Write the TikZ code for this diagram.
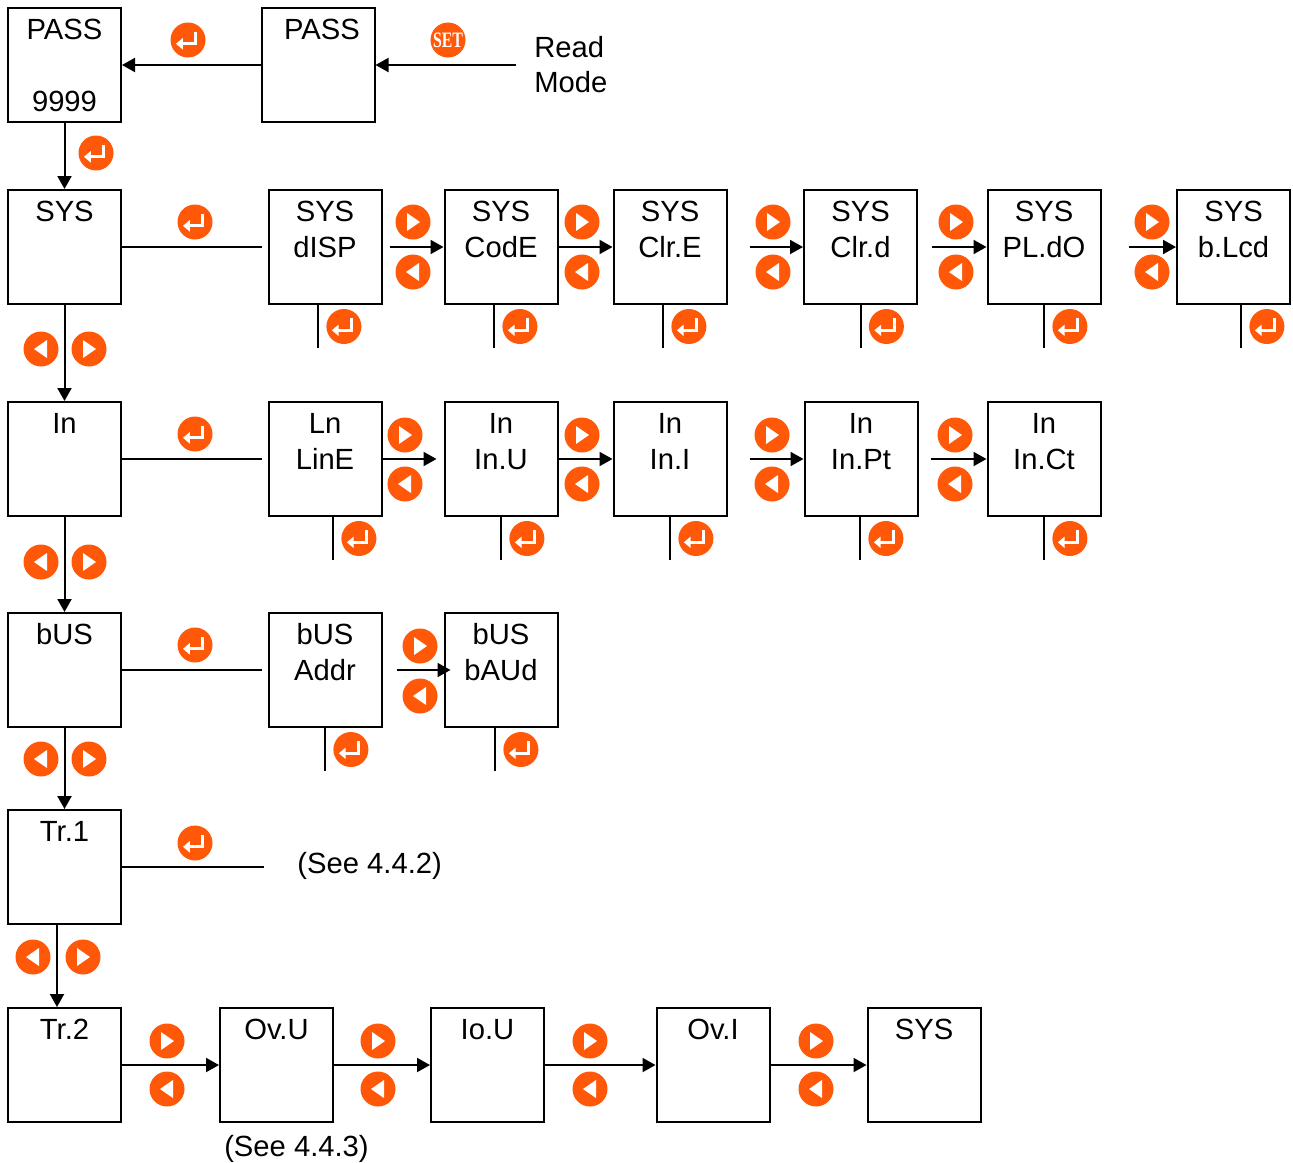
\documentclass[tikz,border=0pt]{standalone}
\usepackage{fontspec}
\setmainfont{Liberation Sans}
\newfontfamily\setkeyfont[FakeStretch=0.72]{Liberation Serif}
\usetikzlibrary{arrows.meta,positioning}
\definecolor{keyorange}{RGB}{255,88,8}
\tikzset{
        menubox/.style={draw=black, line width=1pt, minimum width=56.5pt, minimum height=57pt, inner sep=0pt},
        boxtext/.style={anchor=base, align=center, inner sep=0pt, font=\fontsize{14.6pt}{18pt}\selectfont},
        plaintext/.style={anchor=base west, align=left, inner sep=0pt, font=\fontsize{14.6pt}{17.5pt}\selectfont},
        link/.style={line width=1pt},
        arr/.style={link, -{Triangle[length=6.5pt,width=7pt]}},
        key/.style={circle, fill=keyorange, minimum size=17.5pt, inner sep=0pt},
        rightkey/.style={key, path picture={
          \fill[white] ([shift={(-3pt,4.5pt)}]path picture bounding box.center) -- ++(6.5pt,-4.5pt) -- ++(-6.5pt,-4.5pt) -- cycle;}},
        leftkey/.style={key, path picture={
          \fill[white] ([shift={(3pt,4.5pt)}]path picture bounding box.center) -- ++(-6.5pt,-4.5pt) -- ++(6.5pt,-4.5pt) -- cycle;}},
        enterkey/.style={key, path picture={
          \draw[white, line width=1.5pt] ([shift={(3.8pt,4.2pt)}]path picture bounding box.center) |- ([shift={(-2.8pt,-1.9pt)}]path picture bounding box.center);
          \fill[white] ([shift={(-6pt,-1.9pt)}]path picture bounding box.center) -- ++(3.4pt,2.9pt) -- ++(0,-5.8pt) -- cycle;}},
        setkey/.style={key, text=white, font=\setkeyfont\bfseries\fontsize{11pt}{11pt}\selectfont}
          }
\begin{document}
\begin{tikzpicture}[x=0.5pt, y=-0.5pt]
        \useasboundingbox (0,0) rectangle (1293,1162);
        % password entry
        \node[menubox] (passcode) at (64.5,65) {};
        \node[boxtext] (passcodeT) at ([yshift=-16.25pt]passcode.north) {PASS};
        \node[boxtext] (passcodeV) at ([yshift=5.75pt]passcode.south) {9999};
        \node[menubox] (passin) at (318,65) {};
        \node[boxtext] (passinT) at ([xshift=2pt,yshift=-16.25pt]passin.north) {PASS};
        \node[plaintext] (readmode) at (534,92.5) {Read\\Mode};
        \coordinate (readend) at (516,65);
        \draw[arr] (readend) -- (passin.east);
        \draw[arr] (passin.west) -- (passcode.east);
        \node[setkey] (kset) at (448,40) {SET};
        \node[enterkey] (kpass) at (188,40) {};
        \node[enterkey] (kcode) at (96,153) {};
        % main menu column
        \node[menubox] (sys) at (64.5,247) {};
        \node[menubox] (inp) at (64.5,459) {};
        \node[menubox] (bus) at (64.5,670) {};
        \node[menubox] (trone) at (64.5,867) {};
        \node[menubox] (trtwo) at (64.5,1065) {};
        \node[boxtext] (sysT) at ([yshift=-16.25pt]sys.north) {SYS};
        \node[boxtext] (inpT) at ([yshift=-16.25pt]inp.north) {In};
        \node[boxtext] (busT) at ([yshift=-16.25pt]bus.north) {bUS};
        \node[boxtext] (troneT) at ([yshift=-16.25pt]trone.north) {Tr.1};
        \node[boxtext] (trtwoT) at ([yshift=-16.25pt]trtwo.north) {Tr.2};
        \draw[arr] (passcode.south) -- (sys.north);
        \draw[arr] (sys.south) -- (inp.north);
        \draw[arr] (inp.south) -- (bus.north);
        \draw[arr] (bus.south) -- (trone.north);
        \draw[arr] ([xshift=-3.75pt]trone.south) -- ([xshift=-3.75pt]trtwo.north);
        \foreach \n/\x/\y in {a/41/349, b/41/562, c/41/759, d/33/957}
          \node[leftkey] (vl\n) at (\x,\y) {};
        \foreach \n/\x/\y in {a/89/349, b/89/562, c/89/759, d/83/957}
          \node[rightkey] (vr\n) at (\x,\y) {};
        % SYS row
        \node[menubox] (disp) at (325,247) {};
        \node[menubox] (code) at (501,247) {};
        \node[menubox] (clre) at (670,247) {};
        \node[menubox] (clrd) at (860.5,247) {};
        \node[menubox] (pldo) at (1044,247) {};
        \node[menubox] (blcd) at (1233.5,247) {};
        \foreach \b/\t in {disp/dISP, code/CodE, clre/Clr.E, clrd/Clr.d, pldo/PL.dO, blcd/b.Lcd}
          \node[boxtext] (\b T) at ([yshift=-34.25pt]\b.north) {SYS\\\t};
        \draw[link] (sys.east) -- ([xshift=-3pt]disp.west);
        \node[enterkey] (ksys) at (195,222) {};
        \draw[arr, shorten <=3.5pt] (disp.east) -- (code.west);
        \draw[arr] (code.east) -- (clre.west);
        \draw[arr, shorten <=11pt] (clre.east) -- (clrd.west);
        \draw[arr, shorten <=7pt] (clrd.east) -- (pldo.west);
        \draw[arr, shorten <=13.5pt] (pldo.east) -- (blcd.west);
        % In row
        \node[menubox] (lineb) at (325,459) {};
        \node[menubox] (inu) at (501,459) {};
        \node[menubox] (ini) at (670,459) {};
        \node[menubox] (inpt) at (861,459) {};
        \node[menubox] (inct) at (1044,459) {};
        \node[boxtext] (linebT) at ([yshift=-34.25pt]lineb.north) {Ln\\LinE};
        \foreach \b/\t in {inu/In.U, ini/In.I, inpt/In.Pt, inct/In.Ct}
          \node[boxtext] (\b T) at ([yshift=-34.25pt]\b.north) {In\\\t};
        \draw[link] (inp.east) -- ([xshift=-3pt]lineb.west);
        \node[enterkey] (kinp) at (195,434) {};
        \draw[arr, shorten >=3.5pt] (lineb.east) -- (inu.west);
        \draw[arr] (inu.east) -- (ini.west);
        \draw[arr, shorten <=11pt] (ini.east) -- (inpt.west);
        \draw[arr, shorten <=6pt] (inpt.east) -- (inct.west);
        % bUS row
        \node[menubox] (addr) at (325,670) {};
        \node[menubox] (baud) at (501,670) {};
        \node[boxtext] (addrT) at ([yshift=-34.25pt]addr.north) {bUS\\Addr};
        \node[boxtext] (baudT) at ([yshift=-34.25pt]baud.north) {bUS\\bAUd};
        \draw[link] (bus.east) -- ([xshift=-3pt]addr.west);
        \node[enterkey] (kbus) at (195,645) {};
        \draw[arr, shorten <=7pt, shorten >=-3.5pt] (addr.east) -- (baud.west);
        % enter stubs below the sub menus
        \foreach \b/\dx in {disp/-7, code/-7, clre/-7, clrd/0, pldo/0, blcd/7.5,
                            lineb/8, inu/0, ini/0, inpt/-1, inct/0, addr/0, baud/-6}{
          \draw[link] ([xshift=\dx*0.5pt]\b.south) -- ++(0,43) coordinate[midway] (\b-ent);
          \node[enterkey, right=4pt of \b-ent] (\b-key) {};
        }
        % next / previous keys
        \foreach \n/\x/\y in {a/413/222, b/582/222, c/773/222, d/956/222, e/1152/222,
                              f/405/435, g/582/435, h/772/435, i/955/435, j/420/646,
                              k/167/1041, l/378/1041, m/590/1041, n/816/1041}
          \node[rightkey] (hr\n) at (\x,\y) {};
        \foreach \n/\x/\y in {a/413/272, b/582/272, c/773/272, d/956/272, e/1152/272,
                              f/405/484, g/582/484, h/772/484, i/955/484, j/420/696,
                              k/167/1089, l/378/1089, m/590/1089, n/816/1089}
          \node[leftkey] (hl\n) at (\x,\y) {};
        % Tr.1 row
        \draw[link] (trone.east) -- ++(142,0) coordinate (trone-end);
        \node[enterkey] (ktrone) at (195,843) {};
        \node[plaintext] (seetrone) at (297,873.5) {(See 4.4.2)};
        % Tr.2 row
        \node[menubox] (ovu) at (276.5,1065) {};
        \node[menubox] (iou) at (487.5,1065) {};
        \node[menubox] (ovi) at (713,1065) {};
        \node[menubox] (sysend) at (924,1065) {};
        \node[boxtext] (ovuT) at ([yshift=-16.25pt]ovu.north) {Ov.U};
        \node[boxtext] (iouT) at ([yshift=-16.25pt]iou.north) {Io.U};
        \node[boxtext] (oviT) at ([yshift=-16.25pt]ovi.north) {Ov.I};
        \node[boxtext] (sysendT) at ([yshift=-16.25pt]sysend.north) {SYS};
        \node[boxtext] (seeovu) at ([xshift=10pt,yshift=-16.75pt]ovu.south) {(See 4.4.3)};
        \draw[arr] (trtwo.east) -- (ovu.west);
        \draw[arr] (ovu.east) -- (iou.west);
        \draw[arr] (iou.east) -- (ovi.west);
        \draw[arr] (ovi.east) -- (sysend.west);
      \end{tikzpicture}
\end{document}
